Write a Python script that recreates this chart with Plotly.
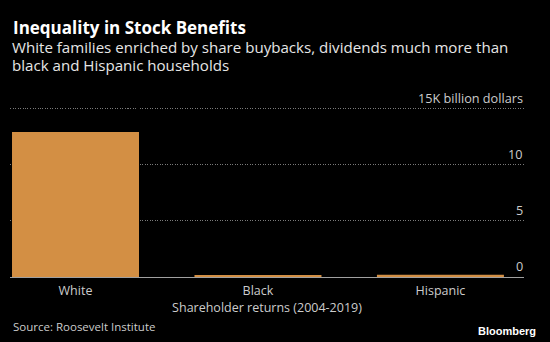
import plotly.graph_objects as go

categories = ["White", "Black", "Hispanic"]
values = [12.9, 0.1, 0.2]
tick_vals = [0, 5, 10, 15]
tick_text = ["0", "5", "10", "15K billion dollars"]

FONT = "Open Sans"
BAR = "#d38f44"
W, H = 550, 342
L, R, B = 10, 26, 65
Y0, Y15 = 277, 108.5
unit = (Y0 - Y15) / 15.0
T = 106
ymax = (Y0 - T) / unit
pw, ph = W - L - R, H - T - B


def px_x(x):
    return (x - L) / pw


def px_y(y):
    return (H - y - B) / ph


fig = go.Figure()
fig.add_trace(go.Bar(x=categories, y=values, marker=dict(color=BAR, line=dict(width=0)),
                     hoverinfo="skip"))

annotations = [
    dict(text="<b>Inequality in Stock Benefits</b>", x=px_x(11), y=px_y(27),
         xanchor="left", yanchor="middle", font=dict(size=17, color="white", family=FONT)),
    dict(text="White families enriched by share buybacks, dividends much more than",
         x=px_x(10), y=px_y(47), xanchor="left", yanchor="middle",
         font=dict(size=15.1, color="#e6e6e6", family=FONT)),
    dict(text="black and Hispanic households",
         x=px_x(10), y=px_y(65), xanchor="left", yanchor="middle",
         font=dict(size=15.1, color="#e6e6e6", family=FONT)),
    dict(text="Source: Roosevelt Institute", x=px_x(11), y=px_y(326),
         xanchor="left", yanchor="middle", font=dict(size=11.5, color="#cccccc", family=FONT)),
    dict(text="<b>Bloomberg</b>", x=px_x(538), y=px_y(331),
         xanchor="right", yanchor="middle", font=dict(size=11, color="white", family="Liberation Sans")),
]
for a in annotations:
    a.update(xref="paper", yref="paper", showarrow=False)

for v, t in zip(tick_vals, tick_text):
    annotations.append(dict(text=t, x=px_x(525), y=v, xref="paper", yref="y", showarrow=False,
                            xanchor="right", yanchor="bottom", yshift=0,
                            font=dict(size=12.7, color="#cccccc", family=FONT)))

fig.update_layout(
    width=W, height=H,
    margin=dict(l=L, r=R, t=T, b=B),
    paper_bgcolor="black", plot_bgcolor="black",
    showlegend=False, bargap=0.304,
    font=dict(family=FONT, color="#cccccc", size=13),
    xaxis=dict(range=[-0.359, 2.458], showgrid=False, showline=True,
               linecolor="#a0a0a0", linewidth=1, ticks="", ticklabelstandoff=2,
               tickfont=dict(size=12.5, color="#cccccc"),
               title=dict(text="Shareholder returns (2004-2019)", standoff=4,
                          font=dict(size=12.5, color="#cccccc"))),
    yaxis=dict(range=[0, ymax], side="right", tickvals=tick_vals, showticklabels=False,
               showgrid=True, gridcolor="#7a7a7a", griddash="1px,1.5px", gridwidth=1,
               zeroline=False, showline=False, ticks=""),
    annotations=annotations,
)
fig.write_html("out.html")
